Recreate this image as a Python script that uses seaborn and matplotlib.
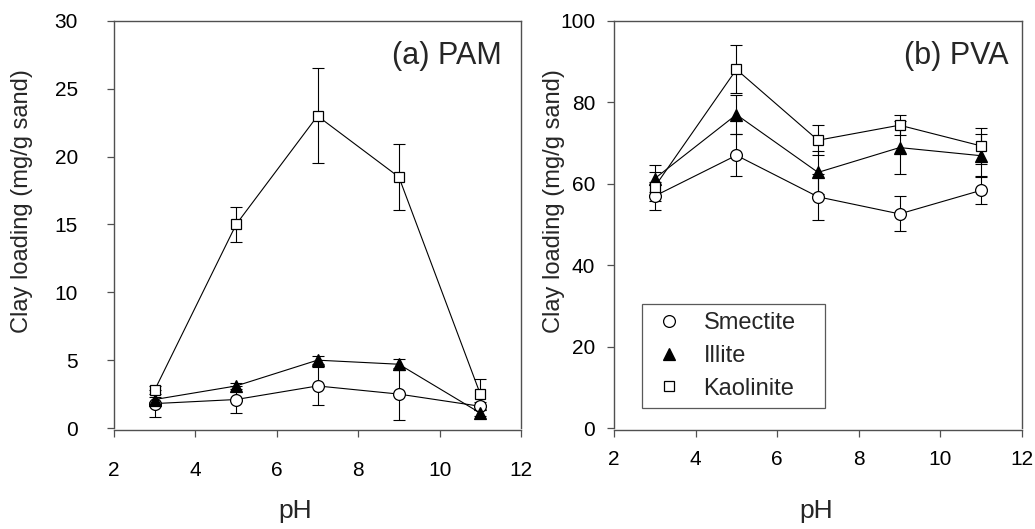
import numpy as np
import pandas as pd
import matplotlib
matplotlib.use("Agg")
import matplotlib.pyplot as plt
from matplotlib.lines import Line2D
import seaborn as sns

# pH values tested
ph = [3, 5, 7, 9, 11]

# (a) PAM — clay loading (mg/g sand) and standard deviations
pam_smectite = [1.8, 2.1, 3.1, 2.5, 1.6]
pam_smectite_err = [1.0, 1.0, 1.4, 1.9, 0.3]
pam_illite = [2.1, 3.1, 5.0, 4.7, 1.1]
pam_illite_err = [0.2, 0.2, 0.3, 0.4, 0.2]
pam_kaolinite = [2.8, 15.0, 23.0, 18.5, 2.5]
pam_kaolinite_err = [0.3, 1.3, 3.5, 2.4, 1.1]

# (b) PVA — clay loading (mg/g sand) and standard deviations
pva_smectite = [57.0, 67.0, 56.8, 52.6, 58.4]
pva_smectite_err = [3.5, 5.2, 5.7, 4.3, 3.4]
pva_illite = [61.3, 77.0, 62.8, 68.9, 66.9]
pva_illite_err = [3.4, 4.8, 5.3, 6.6, 5.3]
pva_kaolinite = [59.3, 88.1, 70.7, 74.4, 69.3]
pva_kaolinite_err = [3.5, 5.9, 3.7, 2.5, 4.5]

clays = ["Smectite", "Illite", "Kaolinite"]
marker_style = {
    "Smectite": dict(marker="o", markerfacecolor="white", markersize=8.5),
    "Illite": dict(marker="^", markerfacecolor="black", markersize=9),
    "Kaolinite": dict(marker="s", markerfacecolor="white", markersize=7.8),
}

sns.set_theme(style="ticks")
plt.rcParams["font.family"] = ["Liberation Sans", "DejaVu Sans"]

SPINE = "#505050"

fig = plt.figure(figsize=(10.35, 5.29), dpi=100)
ax_a = fig.add_axes([114 / 1035, 101 / 529, 407 / 1035, 407 / 529])
ax_b = fig.add_axes([614 / 1035, 101 / 529, 408 / 1035, 407 / 529])


def draw_panel(ax, series, ylim, yticks, title):
    for name, (vals, errs) in zip(clays, series):
        ax.errorbar(ph, vals, yerr=errs, fmt="none", ecolor="black",
                    elinewidth=0.8, capsize=4.3, capthick=0.8, zorder=2)
        sns.lineplot(x=ph, y=vals, ax=ax, color="black", linewidth=0.8,
                     markeredgecolor="black", markeredgewidth=0.9,
                     zorder=3, **marker_style[name])
    ax.set_xlim(2, 12)
    ax.set_ylim(*ylim)
    ax.set_xticks([2, 4, 6, 8, 10, 12])
    ax.set_yticks(yticks)
    for side in ["left", "right", "top", "bottom"]:
        ax.spines[side].set_visible(True)
        ax.spines[side].set_color(SPINE)
        ax.spines[side].set_linewidth(1.0)
    ax.spines["bottom"].set_position(("outward", 1.5))
    ax.tick_params(axis="both", direction="out", length=5, width=0.9,
                   color=SPINE, labelsize=15, labelcolor="black")
    ax.set_xlabel("pH", fontsize=19)
    ax.set_ylabel("Clay loading (mg/g sand)", fontsize=17)
    ax.text(0.953, 0.894, title, transform=ax.transAxes, ha="right",
            va="baseline", fontsize=22)


draw_panel(ax_a,
           [(pam_smectite, pam_smectite_err),
            (pam_illite, pam_illite_err),
            (pam_kaolinite, pam_kaolinite_err)],
           (0, 30), [0, 5, 10, 15, 20, 25, 30], "(a) PAM")
draw_panel(ax_b,
           [(pva_smectite, pva_smectite_err),
            (pva_illite, pva_illite_err),
            (pva_kaolinite, pva_kaolinite_err)],
           (0, 100), [0, 20, 40, 60, 80, 100], "(b) PVA")

# tick label / axis label placement
ax_a.tick_params(axis="y", pad=21)
ax_a.tick_params(axis="x", pad=17)
ax_b.tick_params(axis="y", pad=8.5)
ax_b.tick_params(axis="x", pad=9)
ax_a.yaxis.set_label_coords(-0.199, 0.558)
ax_b.yaxis.set_label_coords(-0.120, 0.558)
ax_a.xaxis.set_label_coords(0.445, -0.175)
ax_b.xaxis.set_label_coords(0.495, -0.175)
ax_b.texts[0].set_position((0.966, 0.894))

# legend with marker-only handles, stretched to a fixed box width
handles = [
    Line2D([], [], linestyle="none", color="black", markeredgecolor="black",
           markeredgewidth=0.9, **marker_style[name])
    for name in clays
]
leg_w = 183 / 408
leg_h = 103 / 407
leg = ax_b.legend(handles, clays, loc="upper left", mode="expand",
                  bbox_to_anchor=(0.0686, 0.3047 - leg_h, leg_w, leg_h),
                  borderaxespad=0, fontsize=17, frameon=True, fancybox=False,
                  edgecolor="#303030", handlelength=1.6, handletextpad=0.65,
                  labelspacing=0.45, borderpad=0.36)
leg.get_frame().set_linewidth(0.9)

fig.savefig("out.png", dpi=100)
